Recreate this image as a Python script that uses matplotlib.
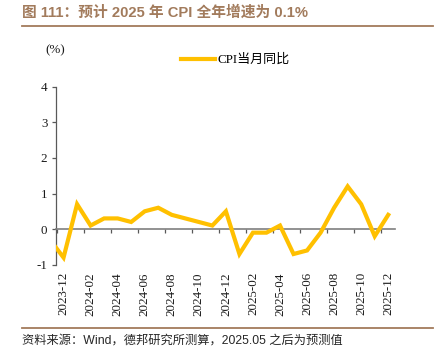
import matplotlib.pyplot as plt
from matplotlib.lines import Line2D
from matplotlib.ticker import FixedLocator, NullFormatter

plt.rcParams['axes.unicode_minus'] = False
plt.rcParams['font.family'] = ['Liberation Serif', 'Noto Sans CJK SC']

# monthly CPI yoy (%), forecast after 2025.05
months = ['2023-12', '2024-01', '2024-02', '2024-03', '2024-04', '2024-05',
          '2024-06', '2024-07', '2024-08', '2024-09', '2024-10', '2024-11',
          '2024-12', '2025-01', '2025-02', '2025-03', '2025-04', '2025-05',
          '2025-06', '2025-07', '2025-08', '2025-09', '2025-10', '2025-11',
          '2025-12', '2026-01']
cpi_yoy = [-0.3, -0.8, 0.7, 0.1, 0.3, 0.3, 0.2, 0.5, 0.6, 0.4, 0.3, 0.2,
           0.1, 0.5, -0.7, -0.1, -0.1, 0.1, -0.7, -0.6, -0.1, 0.6, 1.2, 0.7,
           -0.2, 0.4]
tick_labels = ['2023-12', '2024-02', '2024-04', '2024-06', '2024-08',
               '2024-10', '2024-12', '2025-02', '2025-04', '2025-06',
               '2025-08', '2025-10', '2025-12']

title = '图 111：预计 2025 年 CPI 全年增速为 0.1%'
source = '资料来源：Wind，德邦研究所测算，2025.05 之后为预测值'
brown = '#a27b5c'
gold = '#FFC000'

W, H = 439, 364
fig = plt.figure(figsize=(W / 100, H / 100), dpi=100)
ax = fig.add_axes([55.7 / W, 1 - 264.7 / H, (395 - 55.7) / W, (264.7 - 86.7) / H])

x = list(range(len(months)))
ax.plot(x, cpi_yoy, color=gold, lw=3, label='CPI当月同比', zorder=3,
        solid_joinstyle='miter')

ax.set_xlim(0.42, len(months) - 0.5)
ax.set_ylim(-1, 4)
ax.set_yticks([-1, 0, 1, 2, 3, 4])

# category axis: labels every 2 months, tick marks between categories
ax.xaxis.set_major_locator(FixedLocator(x[1::2]))
ax.set_xticklabels(tick_labels)
ax.xaxis.set_minor_locator(FixedLocator([i + 0.5 for i in x[:-1:2]]))
ax.xaxis.set_minor_formatter(NullFormatter())
ax.tick_params(axis='x', which='major', length=0, pad=31, labelsize=9.4,
               labelcolor='#1a1a1a', labelrotation=90)
ax.tick_params(axis='x', which='minor', length=3, width=0.9, color='#595959',
               direction='out')
ax.tick_params(axis='y', length=3, width=0.9, color='#595959', labelsize=9.4,
               labelcolor='#1a1a1a', pad=3)
for lbl in ax.get_xticklabels():
    lbl.set_va('top')
    lbl.set_ha('center')

for s in ['top', 'right']:
    ax.spines[s].set_visible(False)
ax.spines['bottom'].set_position(('data', 0))
ax.spines['bottom'].set_color('#7f7f7f')
ax.spines['bottom'].set_linewidth(1.2)
ax.spines['left'].set_color('#595959')
ax.spines['left'].set_linewidth(0.9)

fig.text(45 / W, 1 - 50.5 / H, '(%)', fontsize=9.4, va='center', ha='left',
         color='#1a1a1a')

ax.legend(loc='center left', bbox_to_anchor=(181 / W, 1 - 60 / H),
          bbox_transform=fig.transFigure, frameon=False, fontsize=9.4,
          handlelength=2.6, handletextpad=0.2, borderpad=0, borderaxespad=0)

# header and footer
fig.text(22 / W, 1 - 12.5 / H, title, fontsize=10.6, fontweight='bold',
         color=brown, va='center', ha='left',
         family=['Liberation Sans', 'Noto Sans CJK SC'])
fig.add_artist(Line2D([22 / W, 433 / W], [1 - 25.5 / H, 1 - 25.5 / H],
                      color=brown, lw=1.3, transform=fig.transFigure))
fig.add_artist(Line2D([22 / W, 433 / W], [1 - 328 / H, 1 - 328 / H],
                      color=brown, lw=1.3, transform=fig.transFigure))
fig.text(22 / W, 1 - 340.5 / H, source, fontsize=8.8, color='#262626',
         va='center', ha='left',
         family=['Liberation Sans', 'Noto Sans CJK SC'])

fig.savefig('out.png', dpi=100)
